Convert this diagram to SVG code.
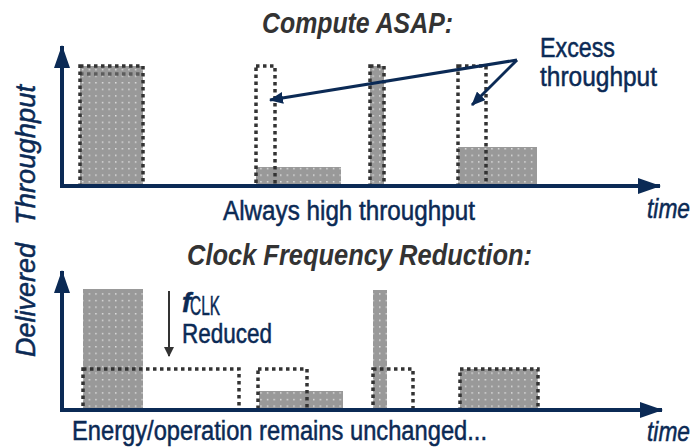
<svg xmlns="http://www.w3.org/2000/svg" width="699" height="448" viewBox="0 0 699 448">
  <style>
    .lbl { font-family: "Liberation Sans Narrow", "Liberation Sans", Arial, sans-serif; fill: #0b2a55; stroke: #0b2a55; stroke-width: 0.5; font-size: 27px; }
    .ttl { font-family: "Liberation Sans Narrow", "Liberation Sans", Arial, sans-serif; fill: #333333; font-size: 30px; font-weight: bold; font-style: italic; }
    .it { font-style: italic; }
    .axis { stroke: #0b2a55; stroke-width: 4; fill: none; }
    .note { stroke: #0b2a55; stroke-width: 3; fill: none; }
    .dot { stroke: #333333; stroke-width: 3.5; stroke-dasharray: 3.5 3.5; fill: none; }
    .bar { fill: url(#grain); }
  </style>
  <defs>
    <pattern id="grain" patternUnits="userSpaceOnUse" width="6.6" height="6.6">
      <rect width="6.6" height="6.6" fill="#999999"/>
      <rect x="3" y="3" width="1.2" height="1.2" fill="#ffffff"/>
    </pattern>
    <marker id="axHead" viewBox="0 0 23 16" refX="22" refY="8" markerWidth="23" markerHeight="16" markerUnits="userSpaceOnUse" orient="auto">
      <path d="M0,0 L23,8 L0,16 Z" fill="#0b2a55"/>
    </marker>
    <marker id="noteHead" viewBox="0 0 14 12" refX="13" refY="6" markerWidth="14" markerHeight="12" markerUnits="userSpaceOnUse" orient="auto">
      <path d="M0,0 L14,6 L0,12 Z" fill="#0b2a55"/>
    </marker>
    <marker id="clkHead" viewBox="0 0 10 10" refX="9" refY="5" markerWidth="10" markerHeight="10" markerUnits="userSpaceOnUse" orient="auto">
      <path d="M0,0 L10,5 L0,10 Z" fill="#333333"/>
    </marker>
  </defs>

  <!-- Upper panel: compute as soon as possible -->
  <g id="asap-bars">
    <rect class="bar" x="80" y="66" width="63" height="120"/>
    <rect class="dot" x="80" y="66" width="63" height="120"/>
    <line class="dot" x1="80" y1="74" x2="143" y2="74" opacity="0.6"/>
    <rect class="bar" x="256" y="167" width="85" height="19"/>
    <rect class="dot" x="256" y="66" width="19" height="120"/>
    <rect class="bar" x="370" y="66" width="14" height="120"/>
    <rect class="dot" x="370" y="66" width="14" height="120"/>
    <rect class="bar" x="458" y="147" width="79" height="39"/>
    <rect class="dot" x="458" y="66" width="28" height="120"/>
  </g>

  <!-- Lower panel: clock frequency reduction -->
  <g id="dvfs-bars">
    <rect class="bar" x="83" y="289" width="60" height="121"/>
    <rect class="dot" x="83" y="369" width="156" height="41"/>
    <rect class="bar" x="259" y="391" width="84" height="19"/>
    <rect class="dot" x="258" y="369" width="49" height="41"/>
    <rect class="bar" x="373" y="290" width="14" height="120"/>
    <rect class="dot" x="373" y="369" width="40" height="41"/>
    <rect class="bar" x="460" y="369" width="78" height="41"/>
    <rect class="dot" x="460" y="369" width="78" height="41"/>
  </g>

  <g id="connectors">
    <path class="axis" d="M62,188 L62,46" marker-end="url(#axHead)"/>
    <path class="axis" d="M60,186 L660,186" marker-end="url(#axHead)"/>
    <path class="axis" d="M62,412 L62,271" marker-end="url(#axHead)"/>
    <path class="axis" d="M60,410 L662,410" marker-end="url(#axHead)"/>
    <path class="note" d="M517,60 L270,100" marker-end="url(#noteHead)"/>
    <path class="note" d="M517,60 L472,105" marker-end="url(#noteHead)"/>
    <path d="M169,291 L169,356" stroke="#333333" stroke-width="2" fill="none" marker-end="url(#clkHead)"/>
  </g>

  <g id="labels">
    <text class="ttl" x="262" y="33" textLength="191" lengthAdjust="spacingAndGlyphs">Compute ASAP:</text>
    <text class="lbl" x="540" y="57" textLength="75" lengthAdjust="spacingAndGlyphs">Excess</text>
    <text class="lbl" x="540" y="86" textLength="117" lengthAdjust="spacingAndGlyphs">throughput</text>
    <text class="lbl" x="223" y="220" textLength="252" lengthAdjust="spacingAndGlyphs">Always high throughput</text>
    <text class="lbl it" x="647" y="218" textLength="43" lengthAdjust="spacingAndGlyphs">time</text>
    <text class="ttl" x="187" y="265" textLength="345" lengthAdjust="spacingAndGlyphs">Clock Frequency Reduction:</text>
    <text class="lbl" x="182" y="312" font-weight="bold" font-style="italic">f</text>
    <text class="lbl" x="190" y="315" font-size="16" stroke-width="0.3" textLength="30" lengthAdjust="spacingAndGlyphs">CLK</text>
    <text class="lbl" x="182" y="343" textLength="90" lengthAdjust="spacingAndGlyphs">Reduced</text>
    <text class="lbl" x="72" y="440" textLength="415" lengthAdjust="spacingAndGlyphs">Energy/operation remains unchanged...</text>
    <text class="lbl it" x="647" y="441" textLength="43" lengthAdjust="spacingAndGlyphs">time</text>
    <text class="lbl it" transform="translate(35,357) rotate(-90)" textLength="114" lengthAdjust="spacingAndGlyphs">Delivered</text>
    <text class="lbl it" transform="translate(35,225) rotate(-90)" textLength="140" lengthAdjust="spacingAndGlyphs">Throughput</text>
  </g>
</svg>
